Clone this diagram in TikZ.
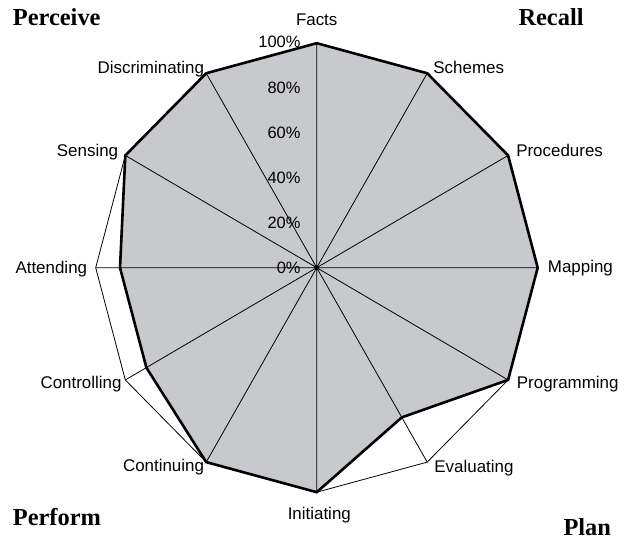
\documentclass[tikz,border=0pt]{standalone}
\usepackage{fontspec}
\setmainfont{Liberation Sans}
\newfontfamily\headfont{Liberation Serif}
\definecolor{areagray}{RGB}{200,201,204}

\begin{document}
\begin{tikzpicture}[x=1bp,y=1bp]
      \tikzset{
        axislabel/.style={font=\fontsize{17}{20}\selectfont, inner sep=0pt},
        pctlabel/.style={font=\fontsize{16.5}{20}\selectfont, inner sep=0pt, anchor=east},
        corner/.style={font=\headfont\bfseries\fontsize{24.5}{28}\selectfont, inner sep=0pt, anchor=base west},
        frame/.style={line width=0.8bp},
        spoke/.style={line width=0.8bp},
        area/.style={fill=areagray, line width=2.6bp, line join=miter}
      }
      \useasboundingbox (0,0) rectangle (628,542);

      \begin{scope}[shift={(316.7bp,274.3bp)}, x=221bp, y=224.5bp]
      \coordinate (c) at (0,0);
      % full scale
      \coordinate (facts) at (90:1);
      \coordinate (schemes) at (60:1);
      \coordinate (procedures) at (30:1);
      \coordinate (mapping) at (0:1);
      \coordinate (programming) at (-30:1);
      \coordinate (evaluating) at (-60:1);
      \coordinate (initiating) at (-90:1);
      \coordinate (continuing) at (-120:1);
      \coordinate (controlling) at (-150:1);
      \coordinate (attending) at (180:1);
      \coordinate (sensing) at (150:1);
      \coordinate (discriminating) at (120:1);
      % scores
      \coordinate (d-facts) at (90:1);
      \coordinate (d-schemes) at (60:1);
      \coordinate (d-procedures) at (30:1);
      \coordinate (d-mapping) at (0:1);
      \coordinate (d-programming) at (-30:1);
      \coordinate (d-evaluating) at (-60:0.77);
      \coordinate (d-initiating) at (-90:1);
      \coordinate (d-continuing) at (-120:1);
      \coordinate (d-controlling) at (-150:0.89);
      \coordinate (d-attending) at (180:0.89);
      \coordinate (d-sensing) at (150:1);
      \coordinate (d-discriminating) at (120:1);

      \draw[frame] (facts) -- (schemes) -- (procedures) -- (mapping) -- (programming) -- (evaluating)
        -- (initiating) -- (continuing) -- (controlling) -- (attending) -- (sensing) -- (discriminating) -- cycle;
      \draw[area] (d-facts) -- (d-schemes) -- (d-procedures) -- (d-mapping) -- (d-programming) -- (d-evaluating)
        -- (d-initiating) -- (d-continuing) -- (d-controlling) -- (d-attending) -- (d-sensing) -- (d-discriminating) -- cycle;
      \draw[spoke] (c) -- (facts) (c) -- (schemes) (c) -- (procedures) (c) -- (mapping)
        (c) -- (programming) (c) -- (evaluating) (c) -- (initiating) (c) -- (continuing)
        (c) -- (controlling) (c) -- (attending) (c) -- (sensing) (c) -- (discriminating);
      \fill (c) circle (2bp);

      \node[pctlabel] (p0) at ([xshift=-16bp]c) {0\%};
      \node[pctlabel] (p20) at ([xshift=-16bp]90:0.2) {20\%};
      \node[pctlabel] (p40) at ([xshift=-16bp]90:0.4) {40\%};
      \node[pctlabel] (p60) at ([xshift=-16bp]90:0.6) {60\%};
      \node[pctlabel] (p80) at ([xshift=-16bp]90:0.8) {80\%};
      \node[pctlabel] (p100) at ([xshift=-16bp,yshift=1bp]facts) {100\%};
      \end{scope}

      \node[axislabel, anchor=base] (l-facts) at ([yshift=18bp]facts) {Facts};
      \node[axislabel, anchor=base west] (l-schemes) at ([xshift=6bp]schemes) {Schemes};
      \node[axislabel, anchor=base west] (l-procedures) at ([xshift=8bp,yshift=-1.5bp]procedures) {Procedures};
      \node[axislabel, anchor=base west] (l-mapping) at ([xshift=10bp,yshift=-5bp]mapping) {Mapping};
      \node[axislabel, anchor=base west] (l-programming) at ([xshift=8.6bp,yshift=-8.3bp]programming) {Programming};
      \node[axislabel, anchor=base west] (l-evaluating) at ([xshift=7bp,yshift=-10.6bp]evaluating) {Evaluating};
      \node[axislabel, anchor=base] (l-initiating) at ([xshift=2.6bp,yshift=-27bp]initiating) {Initiating};
      \node[axislabel, anchor=base east] (l-continuing) at ([xshift=-2bp,yshift=-9.6bp]continuing) {Continuing};
      \node[axislabel, anchor=base east] (l-controlling) at ([xshift=-3.6bp,yshift=-9bp]controlling) {Controlling};
      \node[axislabel, anchor=base east] (l-attending) at ([xshift=-8.4bp,yshift=-5.6bp]attending) {Attending};
      \node[axislabel, anchor=base east] (l-sensing) at ([xshift=-7bp,yshift=-1.5bp]sensing) {Sensing};
      \node[axislabel, anchor=base east] (l-discriminating) at ([xshift=-2bp]discriminating) {Discriminating};

      \node[corner] (perceive) at (12.7,516) {Perceive};
      \node[corner] (recall) at (518.3,516) {Recall};
      \node[corner] (perform) at (12.7,16) {Perform};
      \node[corner] (plan) at (563.3,6) {Plan};
\end{tikzpicture}
\end{document}
